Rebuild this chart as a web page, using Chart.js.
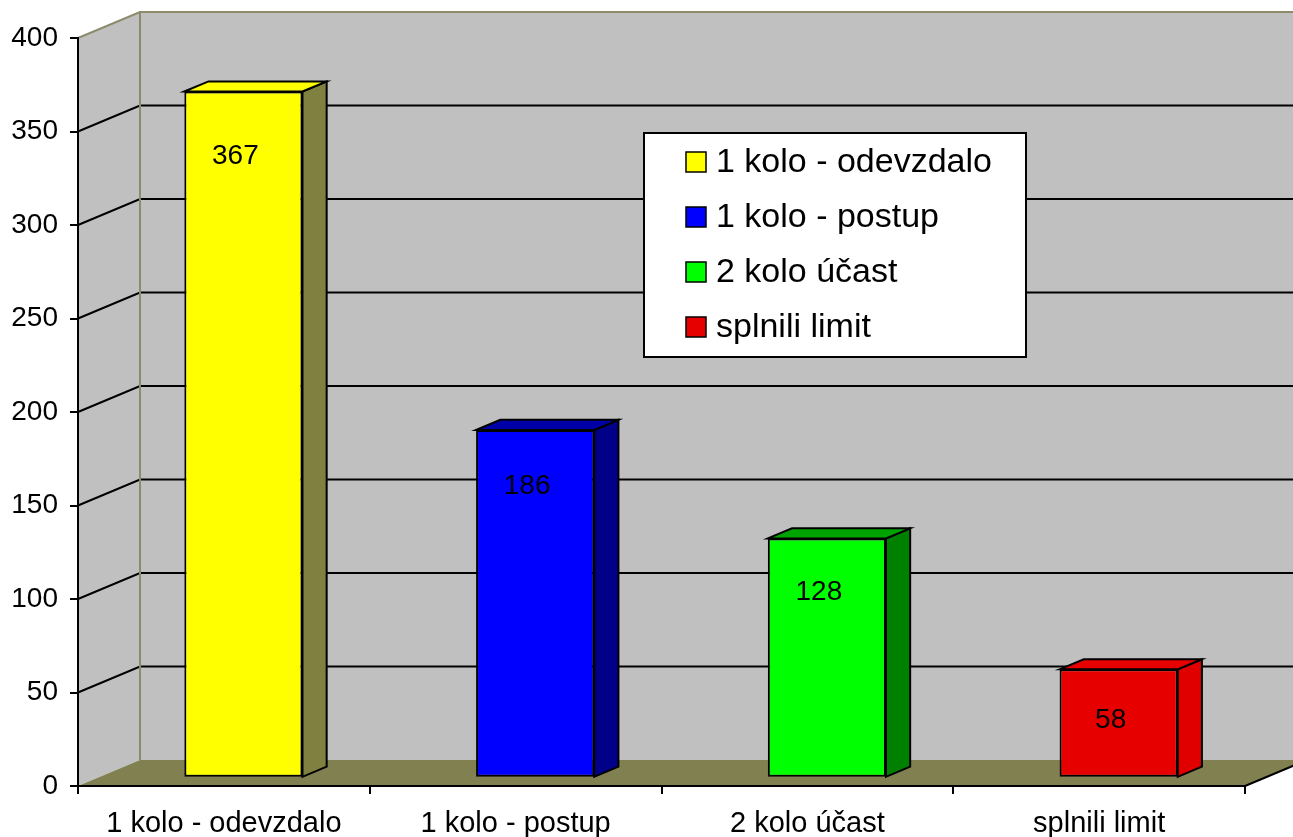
<!DOCTYPE html>
<html><head><meta charset="utf-8">
<script src="https://cdn.jsdelivr.net/npm/chart.js@4/dist/chart.umd.min.js"></script>
<style>html,body{margin:0;padding:0;background:#fff;overflow:hidden}#wrap{width:1293px;height:837px;position:relative}</style>
</head><body><div id="wrap"><canvas id="c" width="1293" height="837"></canvas></div>
<script>
// ---- data ----
const categories = ['1 kolo - odevzdalo', '1 kolo - postup', '2 kolo účast', 'splnili limit'];
const values = [367, 186, 128, 58];
const yTicks = [0, 50, 100, 150, 200, 250, 300, 350, 400];

// ---- styles ----
const frontColors = ['#FFFF00', '#0000FF', '#00FF00', '#E60000'];
const sideColors  = ['#808040', '#000088', '#008000', '#E00000'];
const topColors   = ['#FFFF00', '#0000A8', '#00A400', '#E60000'];
const FONT = "'Liberation Sans', Arial, sans-serif";
const DEPTH = {x: 62, y: -26};       // projected depth of the plot box
const BAR_FRONT = 0.315;             // bar front plane as fraction of depth
const BAR_DEPTH = 0.39;              // bar depth as fraction of depth

Chart.defaults.font.family = FONT;
Chart.defaults.font.size = 28;
Chart.defaults.color = '#000';

const threeD = {
  id: 'threeD',
  beforeDraw(chart) {
    const {ctx, chartArea: a, scales: {y}} = chart;
    const dx = DEPTH.x, dy = DEPTH.y;
    const y0 = y.getPixelForValue(y.min), yT = y.getPixelForValue(y.max);
    const L = a.left, R = a.right;
    ctx.save();
    ctx.fillStyle = '#C0C0C0';
    ctx.fillRect(L + dx, yT + dy, R - L + 10, y0 - yT);
    ctx.beginPath();
    ctx.moveTo(L, yT); ctx.lineTo(L + dx, yT + dy); ctx.lineTo(L + dx, y0 + dy); ctx.lineTo(L, y0);
    ctx.closePath(); ctx.fill();
    // floor
    ctx.fillStyle = '#808050';
    ctx.beginPath();
    ctx.moveTo(L, y0); ctx.lineTo(L + dx, y0 + dy); ctx.lineTo(R + dx, y0 + dy); ctx.lineTo(R, y0);
    ctx.closePath(); ctx.fill();
    ctx.strokeStyle = '#000'; ctx.lineWidth = 2;
    ctx.beginPath(); ctx.moveTo(R, y0); ctx.lineTo(R + dx, y0 + dy); ctx.stroke();
    // gridlines on walls
    y.ticks.forEach(t => {
      if (t.value <= y.min || t.value >= y.max) return;
      const py = y.getPixelForValue(t.value);
      ctx.beginPath();
      ctx.moveTo(L, py); ctx.lineTo(L + dx, py + dy); ctx.lineTo(R + dx, py + dy);
      ctx.stroke();
    });
    // wall edges
    ctx.strokeStyle = '#8C8C6C'; ctx.lineWidth = 2;
    ctx.beginPath();
    ctx.moveTo(L, yT); ctx.lineTo(L + dx, yT + dy); ctx.lineTo(R + dx, yT + dy);
    ctx.moveTo(L + dx, yT + dy); ctx.lineTo(L + dx, y0 + dy);
    ctx.stroke();
    ctx.restore();
  },
  beforeDatasetsDraw(chart) {
    const {ctx} = chart;
    const fx = DEPTH.x * BAR_FRONT, fy = DEPTH.y * BAR_FRONT;
    const bx = DEPTH.x * BAR_DEPTH, by = DEPTH.y * BAR_DEPTH;
    const meta = chart.getDatasetMeta(0);
    ctx.save();
    ctx.lineWidth = 2; ctx.strokeStyle = '#000'; ctx.lineJoin = 'miter';
    meta.data.forEach((bar, i) => {
      const p = bar.getProps(['x', 'y', 'base', 'width'], true);
      const l = p.x - p.width / 2 + fx, r = p.x + p.width / 2 + fx;
      const t = p.y + fy, b = p.base + fy;
      ctx.fillStyle = sideColors[i];
      ctx.beginPath();
      ctx.moveTo(r, t); ctx.lineTo(r + bx, t + by); ctx.lineTo(r + bx, b + by); ctx.lineTo(r, b);
      ctx.closePath(); ctx.fill(); ctx.stroke();
      ctx.fillStyle = topColors[i];
      ctx.beginPath();
      ctx.moveTo(l, t); ctx.lineTo(l + bx, t + by); ctx.lineTo(r + bx, t + by); ctx.lineTo(r, t);
      ctx.closePath(); ctx.fill(); ctx.stroke();
    });
    ctx.restore();
    ctx.save();
    ctx.translate(fx, fy);
  },
  afterDatasetsDraw(chart) {
    const {ctx} = chart;
    ctx.restore();
    const fx = DEPTH.x * BAR_FRONT, fy = DEPTH.y * BAR_FRONT;
    const meta = chart.getDatasetMeta(0);
    ctx.save();
    ctx.font = '28px ' + FONT;
    ctx.fillStyle = '#000';
    ctx.textAlign = 'center';
    ctx.textBaseline = 'alphabetic';
    meta.data.forEach((bar, i) => {
      const p = bar.getProps(['x', 'y', 'base'], true);
      const h = p.base - p.y;
      const cy = p.y + fy + 46 + 0.024 * h;
      ctx.fillText(String(values[i]), p.x + fx - 8, cy + 10);
    });
    // legend
    const box = {l: 644, t: 133, r: 1026, b: 357};
    ctx.fillStyle = '#fff';
    ctx.fillRect(box.l, box.t, box.r - box.l, box.b - box.t);
    ctx.strokeStyle = '#000'; ctx.lineWidth = 2;
    ctx.strokeRect(box.l, box.t, box.r - box.l, box.b - box.t);
    ctx.font = '34px ' + FONT;
    ctx.textAlign = 'left';
    categories.forEach((c, i) => {
      const base = 172 + i * 55;
      ctx.fillStyle = frontColors[i];
      ctx.fillRect(686, base - 20, 20, 20);
      ctx.lineWidth = 1.5; ctx.strokeStyle = '#000';
      ctx.strokeRect(686, base - 20, 20, 20);
      ctx.fillStyle = '#000';
      ctx.fillText(c, 716, base);
    });
    ctx.restore();
  }
};

new Chart(document.getElementById('c'), {
  type: 'bar',
  data: {
    labels: categories,
    datasets: [{
      data: values,
      backgroundColor: frontColors,
      borderColor: '#000',
      borderWidth: 2,
      borderSkipped: false,
      barPercentage: 0.405,
      categoryPercentage: 1.0
    }]
  },
  options: {
    responsive: false,
    animation: false,
    events: [],
    layout: {padding: {top: 38, right: 48, left: 0, bottom: 0}},
    plugins: {legend: {display: false}, tooltip: {enabled: false}},
    scales: {
      x: {
        grid: {display: true, drawOnChartArea: false, drawTicks: true, tickLength: 8, color: '#000', lineWidth: 2, offset: true},
        border: {display: true, color: '#000', width: 2},
        ticks: {padding: 13, maxRotation: 0, autoSkip: false, font: {size: 29}},
        afterFit(s) { s.height = 51; }
      },
      y: {
        min: 0, max: 400,
        afterBuildTicks(s) { s.ticks = yTicks.map(v => ({value: v})); },
        grid: {display: true, drawOnChartArea: false, drawTicks: true, tickLength: 8, color: '#000', lineWidth: 2},
        border: {display: true, color: '#000', width: 2},
        ticks: {padding: 12, font: {size: 28}},
        afterFit(s) { s.width = 78; }
      }
    }
  },
  plugins: [threeD]
});
</script>
</body></html>
